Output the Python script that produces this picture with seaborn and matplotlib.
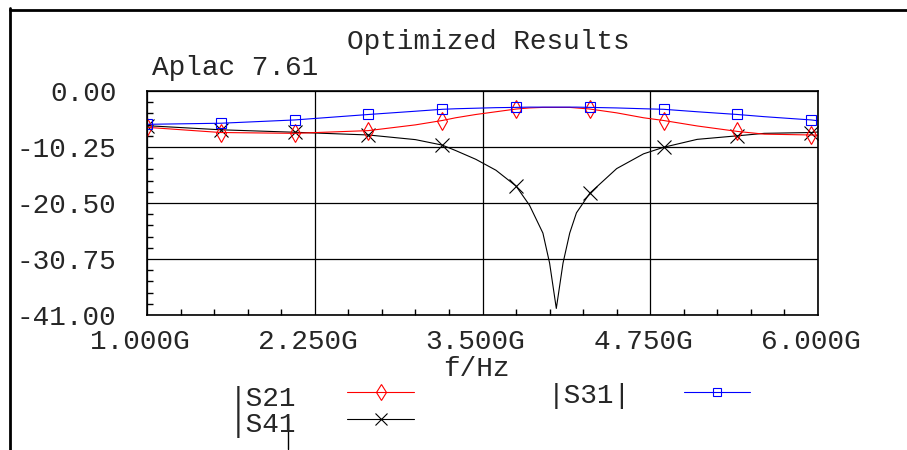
import matplotlib
matplotlib.use("Agg")
import matplotlib.pyplot as plt
import matplotlib.transforms as mtransforms
from matplotlib.lines import Line2D
from matplotlib.ticker import MultipleLocator
import seaborn as sns
import pandas as pd

# ---- data ----
freq_ghz = [1.0, 1.55, 2.1, 2.65, 3.0, 3.2, 3.3, 3.45, 3.6, 3.75, 3.85, 3.95, 4.0,
            4.05, 4.1, 4.15, 4.2, 4.3, 4.5, 4.7, 4.85, 5.1, 5.4, 5.6, 5.95, 6.0]
s21_db = [-6.65, -7.6, -7.75, -7.25, -6.2, -5.4, -4.9, -4.3, -3.8, -3.3, -3.1, -3.0, -3.0,
          -3.0, -3.0, -3.0, -3.1, -3.3, -4.0, -4.9, -5.4, -6.4, -7.4, -7.9, -8.05, -8.1]
s31_db = [-6.1, -5.9, -5.3, -4.3, -3.7, -3.35, -3.25, -3.15, -3.05, -3.0, -2.95, -2.95, -2.95,
          -2.95, -2.95, -2.95, -2.95, -3.0, -3.1, -3.25, -3.35, -3.8, -4.3, -4.7, -5.3, -5.45]
s41_db = [-6.35, -7.1, -7.55, -8.05, -8.9, -9.9, -10.9, -12.5, -14.5, -17.4, -20.9, -26.0, -31.5,
          -39.8, -31.5, -26.0, -22.3, -18.7, -14.2, -11.5, -10.3, -8.85, -8.2, -7.75, -7.6, -7.5]
marker_freqs = [1.0, 1.55, 2.1, 2.65, 3.2, 3.75, 4.3, 4.85, 5.4, 5.95]

x_ticks = [1.0, 2.25, 3.5, 4.75, 6.0]
x_ticklabels = ["1.000G", "2.250G", "3.500G", "4.750G", "6.000G"]
y_ticks = [0.0, -10.25, -20.5, -30.75, -41.0]
y_ticklabels = ["0.00", "-10.25", "-20.50", "-30.75", "-41.00"]

title = "Optimized Results"
subtitle = "Aplac 7.61"
xlabel = "f/Hz"

df = pd.DataFrame({"f": freq_ghz, "S21": s21_db, "S31": s31_db, "S41": s41_db})
mark_idx = [i for i, f in enumerate(freq_ghz) if f in marker_freqs]

sns.set_style("white")
plt.rcParams["font.family"] = ["Liberation Mono", "DejaVu Sans Mono"]

W, H = 907, 450
fig = plt.figure(figsize=(W / 100, H / 100), dpi=100)
ax = fig.add_axes([147 / W, 1 - 315 / H, (818 - 147) / W, (315 - 91) / H])

styles = {
    "S21": dict(color="#ff0000", marker="d", markersize=9, mfc="none"),
    "S31": dict(color="#0000ff", marker="s", markersize=7, mfc="none"),
    "S41": dict(color="#000000", marker="x", markersize=10),
}
for name in ["S41", "S21", "S31"]:
    st = styles[name]
    sns.lineplot(data=df, x="f", y=name, ax=ax, linewidth=0.8,
                 markevery=mark_idx, legend=False, mec=st["color"], mew=0.8, **st)

ax.set_xlim(1.0, 6.0)
ax.set_ylim(-41.0, 0.0)
ax.set_xticks(x_ticks)
ax.set_yticks(y_ticks)
ax.set_xticklabels(x_ticklabels, fontsize=20)
ax.set_yticklabels(y_ticklabels, fontsize=20)
ax.xaxis.set_minor_locator(MultipleLocator(0.25))
ax.yaxis.set_minor_locator(MultipleLocator(2.05))
ax.tick_params(which="major", direction="out", length=5, width=1, color="black")
ax.tick_params(axis="y", which="major", pad=17)
ax.tick_params(axis="x", which="major", pad=5)
ax.tick_params(which="minor", direction="in", length=4, width=1, color="black",
               bottom=True, left=True)
offset = mtransforms.ScaledTranslation(-7 / 100, 0, fig.dpi_scale_trans)
for lab in ax.get_xticklabels():
    lab.set_transform(lab.get_transform() + offset)

ax.grid(True, which="major", color="black", linewidth=0.9)
for sp in ax.spines.values():
    sp.set_color("black")
    sp.set_linewidth(1.2)
ax.set_xlabel("")
ax.set_ylabel("")

fig.text(488 / W, 1 - 42 / H, title, ha="center", va="center", fontsize=20)
fig.text(152 / W, 1 - 68 / H, subtitle, ha="left", va="center", fontsize=20)
fig.text(476 / W, 1 - 369 / H, xlabel, ha="center", va="center", fontsize=20)

# legend
def leg_line(x0, x1, y, color, marker, ms):
    xm = (x0 + x1) / 2
    fig.add_artist(Line2D([x0 / W, x1 / W], [1 - y / H, 1 - y / H], color=color, lw=0.8))
    fig.add_artist(Line2D([xm / W], [1 - y / H], color=color, marker=marker,
                          markersize=ms, mfc="none", mec=color, mew=0.8, lw=0))

fig.text(230 / W, 1 - 399 / H, "|S21", ha="left", va="center", fontsize=20)
fig.text(230 / W, 1 - 425 / H, "|S41", ha="left", va="center", fontsize=20)
fig.text(548 / W, 1 - 396 / H, "|S31|", ha="left", va="center", fontsize=20)
leg_line(347, 414, 392, "#ff0000", "d", 8)
leg_line(347, 414, 419, "#000000", "x", 8)
leg_line(684, 750, 392, "#0000ff", "s", 6)
fig.add_artist(Line2D([288 / W, 288 / W], [1 - 418 / H, 1 - 449 / H], color="black", lw=1))

# outer frame lines
fig.add_artist(Line2D([10 / W, 10 / W], [0, 1 - 8 / H], color="black", lw=2))
fig.add_artist(Line2D([10 / W, 1], [1 - 10 / H, 1 - 10 / H], color="black", lw=2))

fig.savefig("out.png", dpi=100)
